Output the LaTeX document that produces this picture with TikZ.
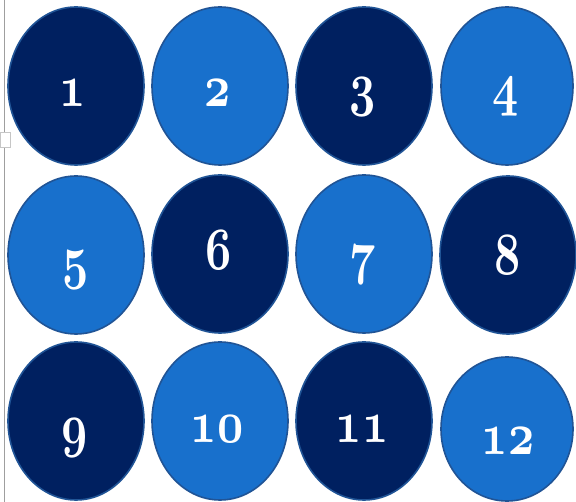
\documentclass[tikz,border=0pt]{standalone}
\usepackage{fix-cm}
\usetikzlibrary{shapes.geometric}
\definecolor{navy}{RGB}{0,32,96}
\definecolor{mblue}{RGB}{24,112,204}
\definecolor{rim}{RGB}{32,84,150}
\tikzset{
  disc/.style={ellipse, inner sep=0pt, minimum width=136pt, minimum height=158pt, draw=rim, line width=1.6pt},
  darkdisc/.style={disc, fill=navy},
  lightdisc/.style={disc, fill=mblue},
  num/.style={anchor=base, text=white, inner sep=0pt, font=\fontsize{60}{60}\selectfont}
}
\newcommand{\dg}[1]{\scalebox{0.76}[1]{\usefont{OML}{cmm}{b}{it}#1}}
\begin{document}
\begin{tikzpicture}[x=1pt,y=-1pt]
\useasboundingbox (0,0) rectangle (576,502);
\fill[white] (0,0) rectangle (576,502);
\draw[gray!75, line width=1pt] (4.5,0) -- (4.5,502);
\draw[gray!45, fill=white, line width=0.8pt] (0,132) rectangle (10,147);
% row 1
\node[darkdisc]  (e1)  at (76,86)  {};
\node[lightdisc] (e2)  at (220,86) {};
\node[darkdisc]  (e3)  at (364,86) {};
\node[lightdisc, minimum width=132pt] (e4)  at (507,86) {};
% row 2
\node[lightdisc] (e5)  at (76,255)  {};
\node[darkdisc]  (e6)  at (220,254) {};
\node[lightdisc] (e7)  at (364,254) {};
\node[darkdisc]  (e8)  at (508,255) {};
% row 3
\node[darkdisc]  (e9)  at (76,421)  {};
\node[lightdisc] (e10) at (220,421) {};
\node[darkdisc]  (e11) at (364,421) {};
\node[lightdisc, minimum width=132pt, minimum height=144pt] (e12) at (507,429) {};
% labels
\node[num] (t1)  at (73,107)  {\dg{1}};
\node[num] (t2)  at (218,107) {\dg{2}};
\node[num] (t3)  at (363,105) {\dg{3}};
\node[num] (t4)  at (506,105) {\dg{4}};
\node[num] (t5)  at (76,278)  {\dg{5}};
\node[num] (t6)  at (219,270) {\dg{6}};
\node[num] (t7)  at (363,273) {\dg{7}};
\node[num] (t8)  at (508,275) {\dg{8}};
\node[num] (t9)  at (75,446)  {\dg{9}};
\node[num] (t10) at (217,443) {\dg{10}};
\node[num] (t11) at (362,443) {\dg{11}};
\node[num] (t12) at (508,455) {\dg{12}};
\end{tikzpicture}
\end{document}
